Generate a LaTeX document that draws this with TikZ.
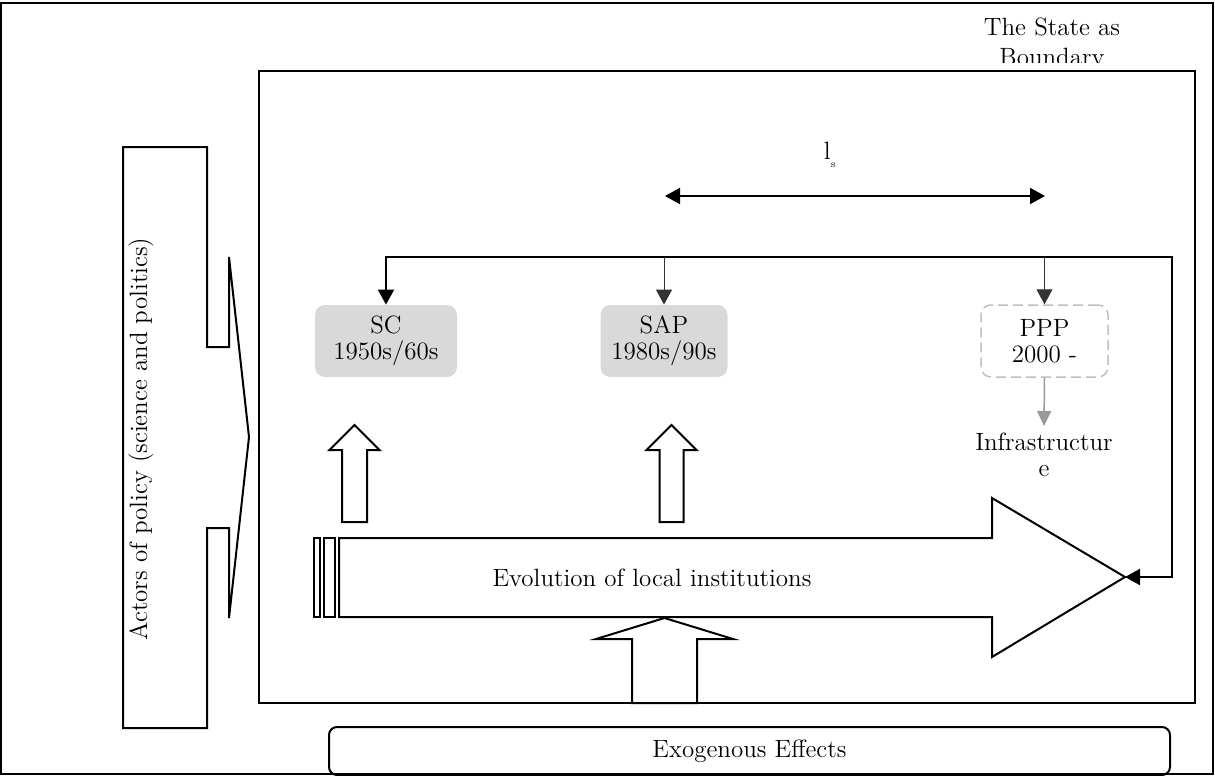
\documentclass[tikz,border=0pt]{standalone}
\usepackage{fontspec}
\usetikzlibrary{arrows.meta}
\tikzset{
  shapeline/.style={draw=black, line width=1pt},
  txt/.style={font=\fontsize{12.5}{13}\selectfont, align=center},
  periodbox/.style={txt, rounded corners=5pt, minimum width=63.5pt, minimum height=36pt, inner sep=0pt},
  tipbig/.tip={Triangle[length=7.5pt,width=8pt]},
  feedback/.style={line width=1pt, tipbig-tipbig},
  branch/.style={line width=0.5pt, draw=black!80, -tipbig}
}
\begin{document}
\begin{tikzpicture}[x=0.5pt,y=-0.5pt]
\newcommand\blockup[6]{% x, tip y, head base y, bottom y, head half, shaft half
\draw[shapeline] (#1,#2) -- (#1+#5,#3) -- (#1+#6,#3) -- (#1+#6,#4) -- (#1-#6,#4) -- (#1-#6,#3) -- (#1-#5,#3) -- cycle;
}
\useasboundingbox (0,0) rectangle (1215,776);
% frames
\draw[line width=1pt] (1,3) rectangle (1213,774);
\draw[line width=1pt] (259,71) rectangle (1195,703);
\begin{scope}
\clip (900,6) rectangle (1210,62);
\node[txt, font=\fontsize{12.5}{15}\selectfont] (stateLbl) at (1052,44) {The State as\\Boundary};
\end{scope}
% actors callout
\draw[shapeline] (123,147) -- (207,147) -- (207,347) -- (229,347) -- (229,257) -- (249,437)
  -- (229,618) -- (229,528) -- (207,528) -- (207,728) -- (123,728) -- cycle;
\node[txt, rotate=90] (actors) at (141,439) {Actors of policy (science and politics)};
% span of the state
\coordinate (lsL) at (665,196);
\coordinate (lsR) at (1045,196);
\draw[line width=1pt, tipbig-tipbig] (lsL) -- (lsR);
\node[txt] (lsLbl) at (830,155) {l\raisebox{-4pt}{\fontsize{5}{5}\selectfont s}};
% periods
\node[periodbox, fill=black!15, minimum width=71pt] (sc) at (386,341) {SC\\1950s/60s};
\node[periodbox, fill=black!15] (sap) at (664,341) {SAP\\1980s/90s};
\node[periodbox, draw=black!25, line width=0.75pt, dash pattern=on 5pt off 2.5pt] (ppp) at (1044.5,341) {PPP\\2000 -};
\node[txt, anchor=north] (infra) at (1044,426) {Infrastructur\\e};
\draw[line width=0.75pt, draw=black!40, -{Triangle[length=7.5pt,width=7pt,fill=black!40]}] (ppp.south) -- (infra.north);
% evolution arrow
\draw[shapeline] (339,538) -- (992,538) -- (992,498) -- (1125,577) -- (992,657) -- (992,617) -- (339,617) -- cycle;
\foreach \a/\b in {314/320,324/335} \draw[line width=0.8pt] (\a,538) rectangle (\b,617);
\coordinate (evoTip) at (1125,577);
\node[txt] (evo) at (652,578) {Evolution of local institutions};
% feedback loop
\coordinate (fbCorner) at (1172,257);
\draw[feedback] (sc.north) |- (fbCorner) |- (evoTip);
\draw[branch] (sap.north |- fbCorner) -- (sap.north);
\draw[branch] (ppp.north |- fbCorner) -- (ppp.north);
% block arrows
\blockup{354.5}{425}{450}{522}{25}{12.5}
\blockup{671.5}{425}{450}{522}{25}{12}
\blockup{664.5}{618}{639}{703}{68.5}{32.5}
% exogenous effects
\node[txt, draw, line width=1pt, rounded corners=4pt, minimum width=420.5pt, minimum height=24pt] (exo) at (749.5,751) {Exogenous Effects};
\end{tikzpicture}
\end{document}
